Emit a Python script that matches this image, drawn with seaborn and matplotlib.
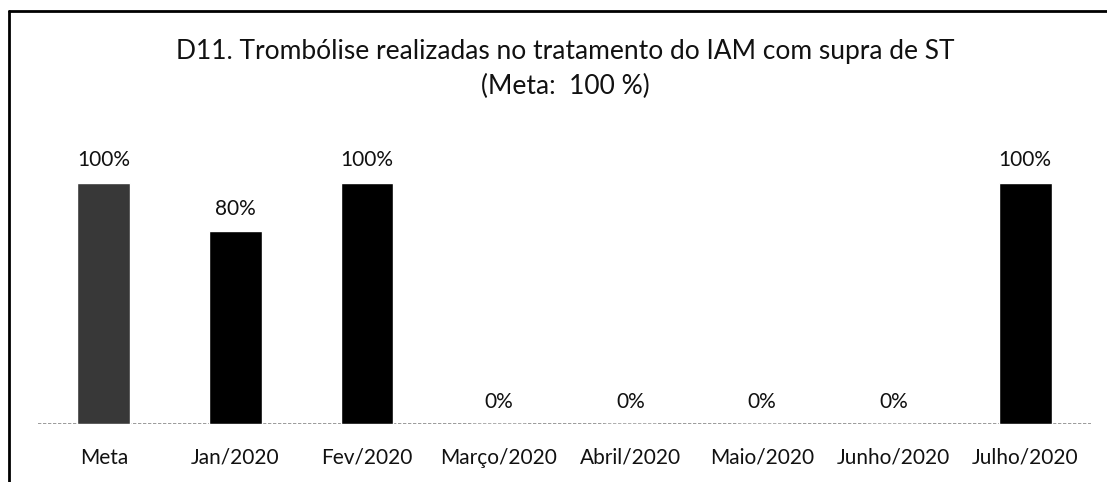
import pandas as pd
import matplotlib.pyplot as plt
import seaborn as sns
from matplotlib.lines import Line2D

# chart data
categories = ["Meta", "Jan/2020", "Fev/2020", "Março/2020", "Abril/2020",
              "Maio/2020", "Junho/2020", "Julho/2020"]
values = [100, 80, 100, 0, 0, 0, 0, 100]
bar_colors = ["#383838", "#000000", "#000000", "#000000", "#000000",
              "#000000", "#000000", "#000000"]
title = "D11. Trombólise realizadas no tratamento do IAM com supra de ST\n(Meta:  100 %)"

df = pd.DataFrame({"Mes": categories, "Valor": values})

sns.set_style("white")
plt.rcParams["font.family"] = ["Lato", "DejaVu Sans"]

W, H = 1107, 482
fig = plt.figure(figsize=(W / 100, H / 100), dpi=100)
# axes in pixel terms: left 38, right 1091, bottom 424 (from top), top 140
ax = fig.add_axes([38 / W, (H - 424) / H, (1091 - 38) / W, (424 - 140) / H])

sns.barplot(data=df, x="Mes", y="Valor", hue="Mes", palette=bar_colors,
            legend=False, width=0.40, ax=ax)

for cont in ax.containers:
    ax.bar_label(cont, labels=[f"{v:.0f}%" for v in cont.datavalues],
                 padding=9, fontsize=15, color="#111111")

ax.set_ylim(0, 284 / 241 * 100)
ax.set_xlim(-0.5, 7.5)
ax.set_xlabel("")
ax.set_ylabel("")
ax.set_yticks([])
ax.tick_params(axis="x", length=0, pad=17, labelsize=15, labelcolor="#111111")
for s in ax.spines.values():
    s.set_visible(False)
ax.axhline(0, color="#8a8a8a", lw=1.2, ls=(0, (2, 1)), zorder=0)

fig.text(565 / W, 1 - 69 / H, title, ha="center", va="center",
         fontsize=19, linespacing=1.5, color="#111111")

# outer frame (top and left edge of the scanned chart box)
fig.add_artist(Line2D([9 / W, 1.0], [1 - 11 / H, 1 - 11 / H],
                      transform=fig.transFigure, color="black", lw=2))
fig.add_artist(Line2D([9 / W, 9 / W], [0, 1 - 11 / H],
                      transform=fig.transFigure, color="black", lw=2))

plt.savefig("out.png", dpi=100)
plt.close()
